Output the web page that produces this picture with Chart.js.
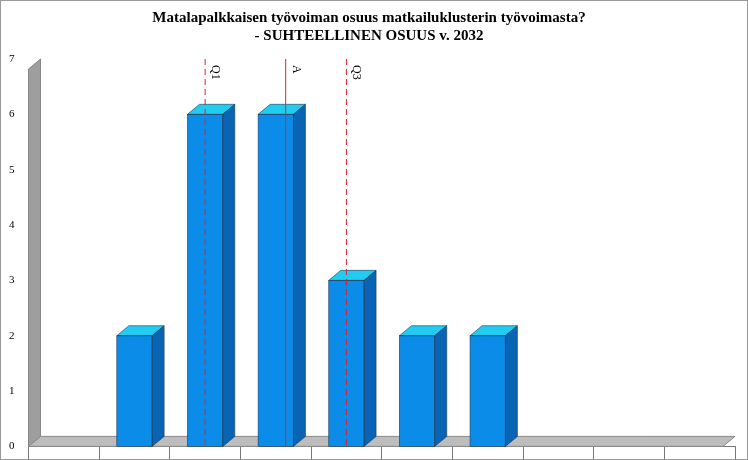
<!DOCTYPE html>
<html><head><meta charset="utf-8">
<script src="https://cdn.jsdelivr.net/npm/chart.js@4/dist/chart.umd.min.js"></script>
<style>html,body{margin:0;padding:0;background:#fff}#w{width:748px;height:460px;position:relative;box-sizing:border-box;border:1px solid #999}</style>
</head><body><div id="w"><canvas id="c"></canvas></div>
<script>
const categories = ["< 5%","6-14%","15-24%","25-34%","35-44%","45-54%","55-64%","65-74%","75-84%","> 85"];
const counts = [0,2,6,6,3,2,2,0,0,0];
const yTicks = [0,1,2,3,4,5,6,7];
const markers = [{label:"Q1",pos:2.0,dash:[6,4]},{label:"A",pos:3.14,dash:[]},{label:"Q3",pos:4.0,dash:[6,4]}];
const titleLines = ["Matalapalkkaisen työvoiman osuus matkailuklusterin työvoimasta?","- SUHTEELLINEN OSUUS v. 2032"];
const D = 12, D2 = 10;
const threeD = {
  id:'threeD',
  beforeDatasetsDraw(ch){
    const {ctx, chartArea:a} = ch;
    ctx.save();
    ctx.fillStyle='#bdbdbd'; ctx.strokeStyle='#888';
    ctx.beginPath(); ctx.moveTo(a.left,a.bottom); ctx.lineTo(a.left+D,a.bottom-D2); ctx.lineTo(a.right,a.bottom-D2); ctx.lineTo(a.right-D,a.bottom); ctx.closePath(); ctx.fill(); ctx.stroke();
    ctx.fillStyle='#9e9e9e';
    ctx.beginPath(); ctx.moveTo(a.left,a.top+D2); ctx.lineTo(a.left+D,a.top); ctx.lineTo(a.left+D,a.bottom-D2); ctx.lineTo(a.left,a.bottom); ctx.closePath(); ctx.fill(); ctx.stroke();
    ctx.restore();
  },
  afterDatasetsDraw(ch){
    const ctx=ch.ctx;
    ch.getDatasetMeta(0).data.forEach((b,i)=>{
      if(!counts[i]) return;
      const l=b.x-b.width/2, r=b.x+b.width/2, y=b.y, base=b.base;
      ctx.save(); ctx.strokeStyle='#1a3a5a'; ctx.lineWidth=0.6;
      ctx.fillStyle='#22ccf0';
      ctx.beginPath(); ctx.moveTo(l,y); ctx.lineTo(l+D,y-D2); ctx.lineTo(r+D,y-D2); ctx.lineTo(r,y); ctx.closePath(); ctx.fill(); ctx.stroke();
      ctx.fillStyle='#0a64b4';
      ctx.beginPath(); ctx.moveTo(r,y); ctx.lineTo(r+D,y-D2); ctx.lineTo(r+D,base-D2); ctx.lineTo(r,base); ctx.closePath(); ctx.fill(); ctx.stroke();
      ctx.strokeRect(l,y,r-l,base-y);
      ctx.restore();
    });
  },
  afterDraw(ch){
    const {ctx, chartArea:a, scales:{x}} = ch;
    const step = x.getPixelForValue(1)-x.getPixelForValue(0);
    markers.forEach(m=>{
      const px = x.getPixelForValue(0)+m.pos*step;
      ctx.save(); ctx.strokeStyle='#e02030'; ctx.lineWidth=1; ctx.setLineDash(m.dash);
      ctx.beginPath(); ctx.moveTo(px,a.top); ctx.lineTo(px,a.bottom); ctx.stroke();
      ctx.setLineDash([]); ctx.translate(px+4,a.top+6); ctx.rotate(Math.PI/2);
      ctx.fillStyle='#000'; ctx.font='12px "Liberation Serif"'; ctx.textBaseline='top';
      ctx.fillText(m.label,0,-12); ctx.restore();
    });
  }
};
new Chart(document.getElementById('c'),{
  type:'bar',
  data:{labels:categories,datasets:[{data:counts,backgroundColor:'#0a8ce8',barPercentage:0.5,categoryPercentage:1}]},
  options:{responsive:true,maintainAspectRatio:false,animation:false,
    layout:{padding:{left:2,right:12,top:0,bottom:2}},
    plugins:{legend:{display:false},tooltip:{enabled:false},
      title:{display:true,text:titleLines,color:'#000',font:{family:'Liberation Serif',size:15,weight:'bold'},padding:{top:8,bottom:14},lineHeight:1.4}},
    scales:{
      x:{grid:{display:true,drawOnChartArea:false,tickLength:18,color:'#777'},border:{color:'#777'},
        ticks:{color:'#000',font:{family:'Liberation Serif',size:11},padding:-14,autoSkip:false,maxRotation:0}},
      y:{min:0,max:7,afterBuildTicks(s){s.ticks=yTicks.map(v=>({value:v}));},grid:{display:false},border:{display:false},
        ticks:{color:'#000',font:{family:'Liberation Serif',size:11},padding:6}}
    }},
  plugins:[threeD]
});
</script></body></html>
